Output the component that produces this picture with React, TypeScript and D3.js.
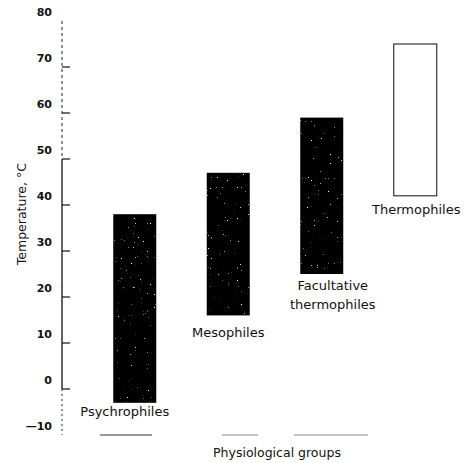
import React from 'react';
import * as d3 from 'd3';

// Temperature ranges for growth of each physiological group (°C)
const groups = ['Psychrophiles', 'Mesophiles', 'Facultative thermophiles', 'Thermophiles'];
const groupLines = [['Psychrophiles'], ['Mesophiles'], ['Facultative', 'thermophiles'], ['Thermophiles']];
const minTemps = [-3, 16, 25, 42];
const maxTemps = [38, 47, 59, 75];
const solid = [true, true, true, false];
const yTicks = [80, 70, 60, 50, 40, 30, 20, 10, 0, -10];

// label nudges (layout only)
const labelDx = [-10, 0, 11, 1];
const labelDy = [13, 22, 16, 18];

const W = 468;
const H = 463;
const FONT = '"DejaVu Sans", sans-serif';

const App = () => {
    const y = d3.scaleLinear().domain([-10, 80]).range([435, 21]);
    const x = d3.scaleBand<string>()
        .domain(groups)
        .range([88, 462])
        .paddingInner(0.54)
        .paddingOuter(0.27);
    const axisX = 62;

    return (
        <svg width={W} height={H} style={{ position: 'absolute', left: 0, top: 0, background: '#fff' }}>
            <defs>
                <filter id="speckle" x="0" y="0" width="100%" height="100%">
                    <feTurbulence type="fractalNoise" baseFrequency="0.7" numOctaves="2" seed="7" result="noise" />
                    <feColorMatrix in="noise" type="matrix"
                        values="0 0 0 0 1  0 0 0 0 1  0 0 0 0 1  12 0 0 0 -8.9" result="dots" />
                    <feComposite in="dots" in2="SourceAlpha" operator="in" />
                </filter>
            </defs>

            {/* y axis line: dotted top and bottom, solid middle */}
            <line x1={axisX} x2={axisX} y1={y(80)} y2={y(50)} stroke="#222" strokeWidth={1}
                strokeDasharray="3,3" />
            <line x1={axisX} x2={axisX} y1={y(50)} y2={y(0)} stroke="#111" strokeWidth={1.3} />
            <line x1={axisX} x2={axisX} y1={y(0)} y2={y(-10)} stroke="#333" strokeWidth={1}
                strokeDasharray="2,3" />

            {yTicks.map(t => (
                <g key={t}>
                    {t < 80 && t > -10 && (
                        <line x1={axisX} x2={axisX + 8} y1={y(t)} y2={y(t)} stroke="#111" strokeWidth={1.2} />
                    )}
                    <text x={52} y={y(t) - 9} dy="0.35em" textAnchor="end" fontFamily={FONT}
                        fontSize={11} fontWeight="bold" fill="#111">
                        {t < 0 ? `\u2014${Math.abs(t)}` : t}
                    </text>
                </g>
            ))}

            <text transform={`translate(26,${y(38)}) rotate(-90)`} textAnchor="middle" fontFamily={FONT}
                fontSize={12.5} fill="#111">
                Temperature, °C
            </text>

            {/* x baseline, faint and broken */}
            <line x1={100} x2={152} y1={y(-10)} y2={y(-10)} stroke="#333" strokeWidth={1} />
            <line x1={222} x2={372} y1={y(-10)} y2={y(-10)} stroke="#888" strokeWidth={1}
                strokeDasharray="36,36,74,10" />

            {groups.map((g, i) => {
                const x0 = x(g) as number;
                const bw = x.bandwidth();
                const top = y(maxTemps[i]);
                const bottom = y(minTemps[i]);
                const cx = x0 + bw / 2 + labelDx[i];
                return (
                    <g key={g}>
                        {solid[i] ? (
                            <>
                                <rect x={x0} y={top} width={bw} height={bottom - top} fill="#000" />
                                <rect x={x0} y={top} width={bw} height={bottom - top} fill="#000"
                                    filter="url(#speckle)" />
                            </>
                        ) : (
                            <rect x={x0} y={top} width={bw} height={bottom - top} fill="#fff"
                                stroke="#222" strokeWidth={1.1} />
                        )}
                        {groupLines[i].map((line, k) => (
                            <text key={k} x={cx} y={bottom + labelDy[i] + k * 19} textAnchor="middle"
                                fontFamily={FONT} fontSize={13} fill="#111">
                                {line}
                            </text>
                        ))}
                    </g>
                );
            })}

            <text x={277} y={457} textAnchor="middle" fontFamily={FONT} fontSize={12.5} fill="#111">
                Physiological groups
            </text>
        </svg>
    );
};

export default App;
